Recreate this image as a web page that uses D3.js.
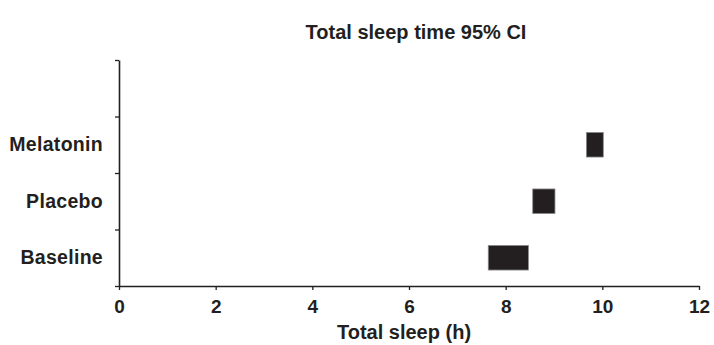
<!DOCTYPE html>
<html>
<head>
<meta charset="utf-8">
<script src="https://cdn.jsdelivr.net/npm/d3@7"></script>
<style>
  html, body { margin: 0; padding: 0; background: #fff; }
  svg { display: block; }
  text { font-family: "Liberation Sans", Arial, Helvetica, sans-serif; font-weight: bold; fill: #231f20; }
</style>
</head>
<body>
<svg id="chart" width="714" height="345"></svg>
<script>
// Rows from top to bottom; the first row is left empty.
const rows = ["", "Melatonin", "Placebo", "Baseline"];
// 95% confidence interval of total sleep time (hours)
const groups = ["Melatonin", "Placebo", "Baseline"];
const ciLow  = [9.67, 8.56, 7.64];
const ciHigh = [10.02, 9.02, 8.47];
const xTicks = [0, 2, 4, 6, 8, 10, 12];

const title = "Total sleep time 95% CI";
const xTitle = "Total sleep (h)";

const ink = "#231f20";
const margin = { top: 60, right: 15, bottom: 59, left: 119 };
const width = 714, height = 345;
const plotW = width - margin.left - margin.right;
const plotH = height - margin.top - margin.bottom;

const svg = d3.select("#chart");
const g = svg.append("g").attr("transform", `translate(${margin.left},${margin.top})`);

const x = d3.scaleLinear().domain([0, 12]).range([0, plotW]);
const y = d3.scaleBand().domain(rows).range([0, plotH]).paddingInner(0.565).paddingOuter(0.2825);
// Row boundaries for the y-axis ticks
const yEdge = d3.scaleLinear().domain([0, rows.length]).range([0, plotH]);

// CI boxes
g.selectAll("rect.ci")
  .data(groups)
  .join("rect")
  .attr("class", "ci")
  .attr("x", (d, i) => x(ciLow[i]))
  .attr("width", (d, i) => x(ciHigh[i]) - x(ciLow[i]))
  .attr("y", d => y(d))
  .attr("height", y.bandwidth())
  .attr("fill", ink)
  .attr("stroke", "#8a8a8a")
  .attr("stroke-width", 0.8);

// Y axis: ticks at row boundaries, no tick text
const yAxis = g.append("g")
  .call(d3.axisLeft(yEdge).tickValues(d3.range(rows.length + 1)).tickSize(4).tickSizeOuter(0).tickFormat(""));
yAxis.select(".domain").attr("stroke", ink).attr("stroke-width", 1.6);
yAxis.selectAll(".tick line").attr("stroke", ink).attr("stroke-width", 1.3);

// Row labels
g.selectAll("text.row")
  .data(groups)
  .join("text")
  .attr("class", "row")
  .attr("x", -16)
  .attr("y", d => y(d) + y.bandwidth() / 2 + 6.5)
  .attr("text-anchor", "end")
  .attr("font-size", 19.5)
  .attr("letter-spacing", 0.3)
  .text(d => d);

// X axis
const xAxis = g.append("g")
  .attr("transform", `translate(0,${plotH})`)
  .call(d3.axisBottom(x).tickValues(xTicks).tickSize(4).tickSizeOuter(0));
xAxis.select(".domain").attr("stroke", ink).attr("stroke-width", 1.6);
xAxis.selectAll(".tick line").attr("stroke", ink).attr("stroke-width", 1.3);
xAxis.selectAll(".tick text")
  .attr("font-size", 19)
  .attr("font-family", "'Liberation Sans', Arial, sans-serif")
  .attr("font-weight", "bold")
  .attr("fill", ink)
  .attr("dy", null)
  .attr("y", 27);

// X axis title
svg.append("text")
  .attr("x", margin.left + plotW / 2 - 5)
  .attr("y", 339)
  .attr("text-anchor", "middle")
  .attr("font-size", 20)
  .text(xTitle);

// Chart title
svg.append("text")
  .attr("x", 416)
  .attr("y", 39)
  .attr("text-anchor", "middle")
  .attr("font-size", 20)
  .text(title);
</script>
</body>
</html>
